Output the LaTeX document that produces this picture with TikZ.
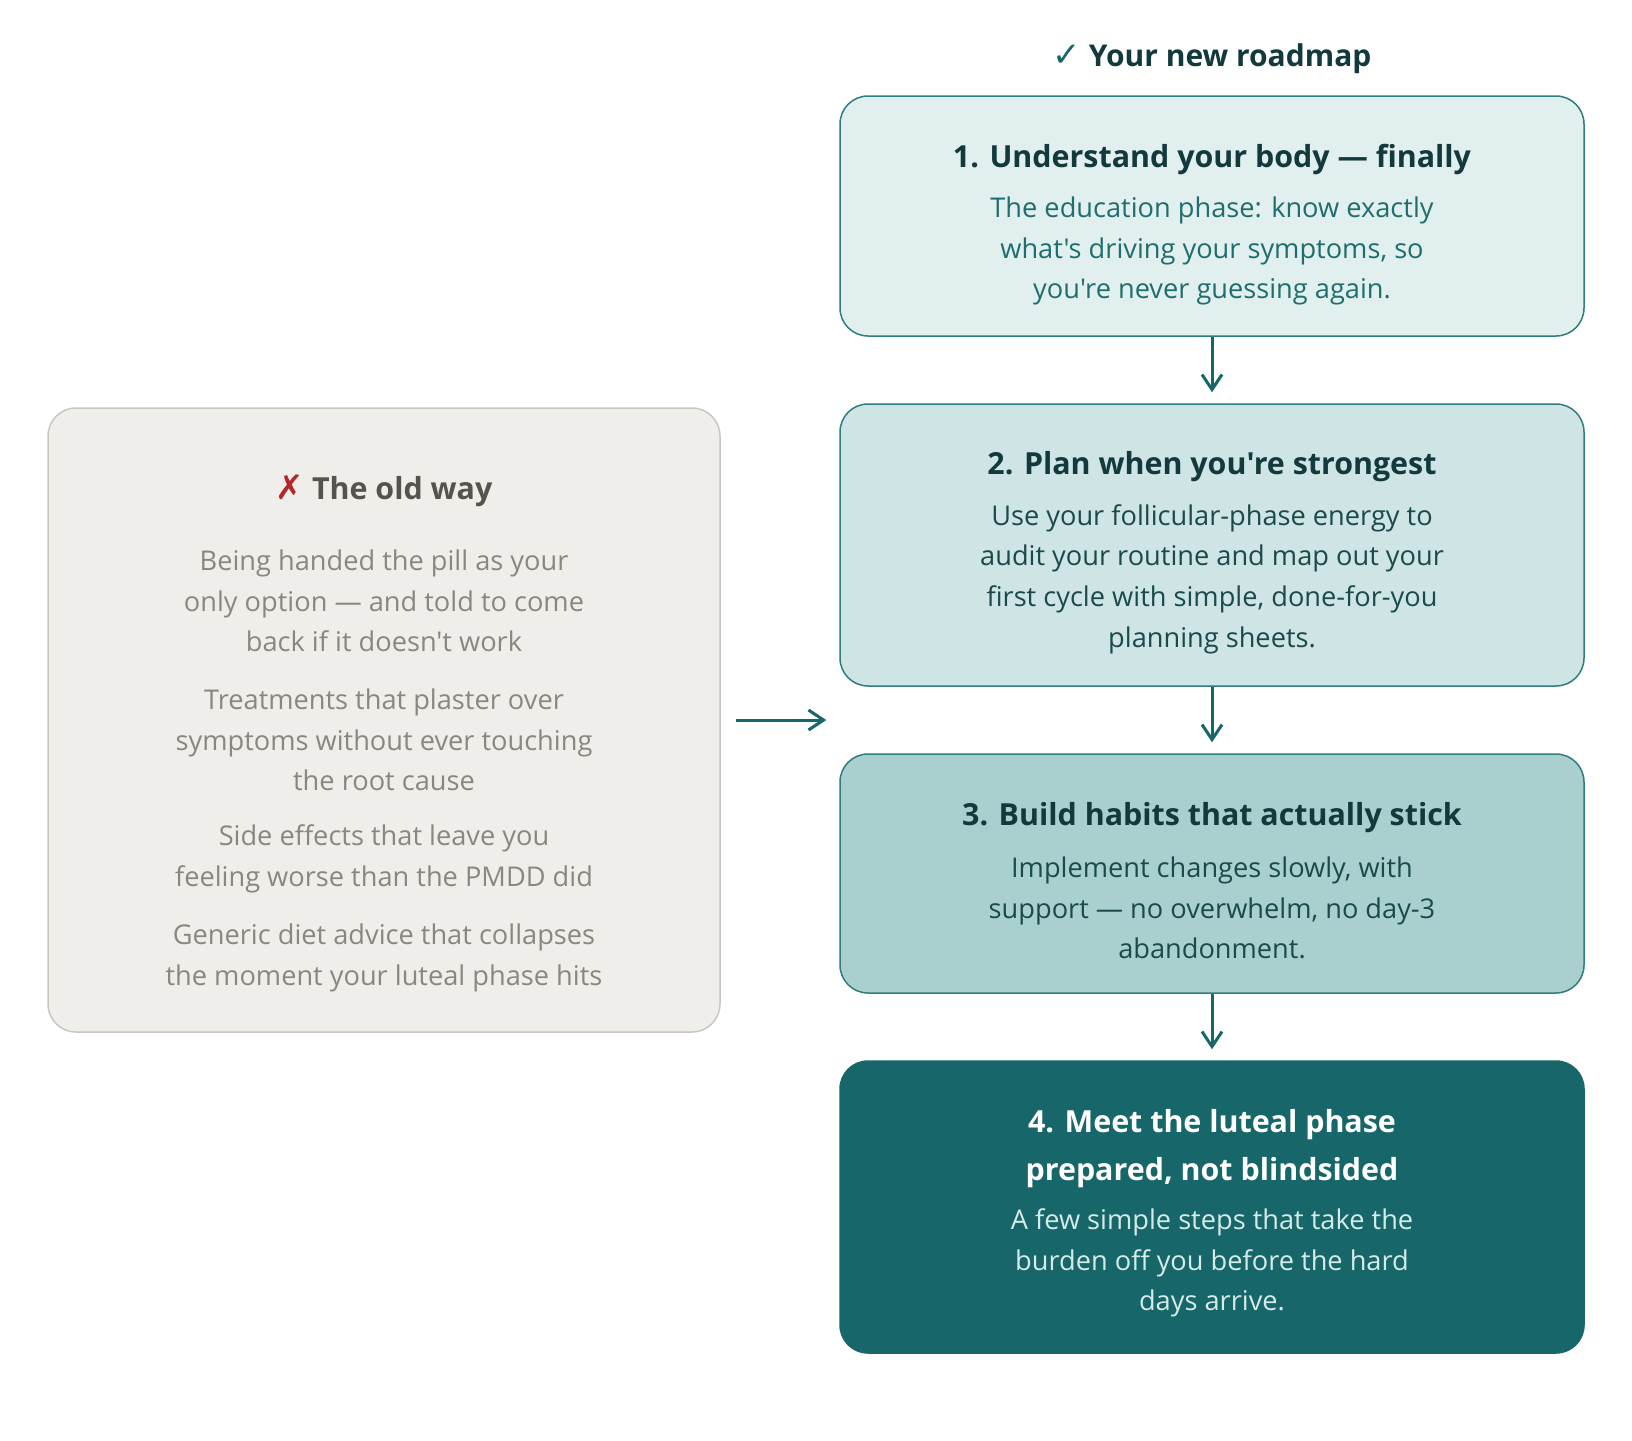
\documentclass[tikz,border=0pt]{standalone}
\usepackage{fontspec}
\setmainfont{Open Sans}[Ligatures=TeXOff]
\newfontfamily\symbfont{DejaVu Sans}
\usetikzlibrary{arrows.meta, positioning}

\definecolor{tealdark}{HTML}{17666A}
\definecolor{tealink}{HTML}{12393B}
\definecolor{tealline}{HTML}{2F7D7E}
\definecolor{tealtext}{HTML}{1F6E6E}
\definecolor{tealbody}{HTML}{1A4A4C}
\definecolor{paleA}{HTML}{E1EFEE}
\definecolor{paleB}{HTML}{CFE4E4}
\definecolor{paleC}{HTML}{A9D0CF}
\definecolor{lightbody}{HTML}{D5EBE8}
\definecolor{oldfill}{HTML}{EFEEEA}
\definecolor{oldline}{HTML}{C8C6BF}
\definecolor{oldtitle}{HTML}{55534E}
\definecolor{oldbody}{HTML}{8A8782}
\definecolor{crossred}{HTML}{B3262A}

\tikzset{
  stepbox/.style={draw=tealline, line width=0.75pt, rounded corners=14pt,
    minimum width=372pt, inner sep=0pt},
  steptitle/.style={font=\fontsize{15.2pt}{24pt}\selectfont\bfseries, text=tealink, align=center},
  stepbody/.style={font=\fontsize{13.6pt}{20.3pt}\selectfont, text=tealbody, align=center},
  oldbody/.style={font=\fontsize{13.6pt}{20.3pt}\selectfont, text=oldbody, align=center},
  flow/.style={draw=tealdark, line width=1.5pt, -{Straight Barb[length=7.5pt,width=10pt]}},
}

\begin{document}
\begin{tikzpicture}[x=0.5pt, y=-0.5pt]
\useasboundingbox (0,0) rectangle (1632,1440);

% heading
\node[font=\fontsize{15pt}{18pt}\selectfont\bfseries, text=tealink] (head) at (1212,59)
  {{\symbfont\mdseries\fontsize{17pt}{18pt}\selectfont\color{tealdark}✓} Your new roadmap};

% roadmap
\node[stepbox, fill=paleA, minimum height=120pt] (s1) at (1212,216) {};
\node[steptitle] (s1t) at (1212,160) {1. Understand your body — finally};
\node[stepbody, text=tealtext] (s1b) at (1212,251) {The education phase: know exactly\\what's driving your symptoms, so\\you're never guessing again.};

\node[stepbox, fill=paleB, minimum height=141pt] (s2) at (1212,545) {};
\node[steptitle] (s2t) at (1212,467) {2. Plan when you're strongest};
\node[stepbody] (s2b) at (1212,579) {Use your follicular-phase energy to\\audit your routine and map out your\\first cycle with simple, done-for-you\\planning sheets.};

\node[stepbox, fill=paleC, minimum height=119.5pt] (s3) at (1212,873.5) {};
\node[steptitle] (s3t) at (1212,818) {3. Build habits that actually stick};
\node[stepbody] (s3b) at (1212,908) {Implement changes slowly, with\\support — no overwhelm, no day-3\\abandonment.};

\node[stepbox, fill=tealdark, draw=tealdark, minimum height=146pt] (s4) at (1212,1207) {};
\node[steptitle, text=white] (s4t) at (1212,1149) {4. Meet the luteal phase\\prepared, not blindsided};
\node[stepbody, text=lightbody] (s4b) at (1212,1263) {A few simple steps that take the\\burden off you before the hard\\days arrive.};

% old way
\node[draw=oldline, line width=0.75pt, fill=oldfill, rounded corners=14pt,
  minimum width=336pt, minimum height=312pt, inner sep=0pt] (old) at (384,720) {};
\node[steptitle, text=oldtitle] (oldt) at (384,491) {{\symbfont\mdseries\fontsize{17pt}{18pt}\selectfont\color{crossred}✗} The old way};
\node[oldbody] (old1) at (384,601) {Being handed the pill as your\\only option — and told to come\\back if it doesn't work};
\node[oldbody] (old2) at (384,740) {Treatments that plaster over\\symptoms without ever touching\\the root cause};
\node[oldbody] (old3) at (384,859) {Side effects that leave you\\feeling worse than the PMDD did};
\node[oldbody] (old4) at (384,958) {Generic diet advice that collapses\\the moment your luteal phase hits};

% arrows
\draw[flow, shorten >=5.5pt] (s1) -- (s2);
\draw[flow, shorten >=5.5pt] (s2) -- (s3);
\draw[flow, shorten >=5.5pt] (s3) -- (s4);
\draw[flow, shorten <=7.5pt, shorten >=6.5pt] (old.east) -- (old.east -| s2.west);
\end{tikzpicture}
\end{document}
